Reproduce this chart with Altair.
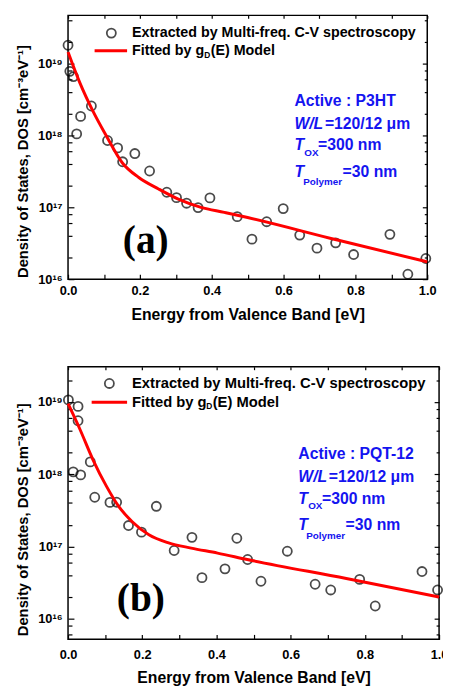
import altair as alt
import pandas as pd

# ---------------- data ----------------
# (a) Active: P3HT
A_E = [0.000, 0.005, 0.015, 0.024, 0.035, 0.065, 0.110, 0.138, 0.152, 0.186, 0.227,
       0.275, 0.302, 0.330, 0.362, 0.395, 0.471, 0.512, 0.553, 0.599, 0.645, 0.693,
       0.745, 0.795, 0.896, 0.946, 0.996]
A_DOS = [1.8e19, 7.8e18, 6.6e18, 1.05e18, 1.84e18, 2.57e18, 8.5e17, 6.7e17, 4.3e17, 5.6e17, 3.2e17,
         1.62e17, 1.36e17, 1.14e17, 9.9e16, 1.35e17, 7.4e16, 3.6e16, 6.3e16, 9.6e16, 4.1e16, 2.7e16,
         3.2e16, 2.2e16, 4.2e16, 1.17e16, 1.94e16]
A_FIT_E = [0.0, 0.033, 0.069, 0.106, 0.152, 0.197, 0.252, 0.307, 0.37, 0.435, 0.5, 0.75, 1.0]
A_FIT_DOS = [1.45e19, 5.4e18, 2.2e18, 1.0e18, 4.1e17, 2.6e17, 1.8e17, 1.3e17, 1.0e17, 8.5e16,
             7.2e16, 3.5e16, 1.74e16]

# (b) Active: PQT-12
B_E = [0.001, 0.014, 0.027, 0.027, 0.034, 0.060, 0.072, 0.113, 0.131, 0.163, 0.198, 0.238,
       0.286, 0.334, 0.361, 0.423, 0.455, 0.484, 0.520, 0.591, 0.666, 0.708, 0.786, 0.828,
       0.954, 0.996]
B_DOS = [1.07e19, 1.08e18, 8.7e18, 5.5e18, 9.8e17, 1.48e18, 4.8e17, 4.07e17, 4.1e17, 1.95e17,
         1.58e17, 3.6e17, 8.8e16, 1.34e17, 3.7e16, 4.9e16, 1.3e17, 6.6e16, 3.3e16, 8.6e16,
         3.0e16, 2.5e16, 3.5e16, 1.5e16, 4.5e16, 2.5e16]
B_FIT_E = [0.0, 0.032, 0.067, 0.103, 0.138, 0.173, 0.218, 0.271, 0.332, 0.403, 0.483, 0.75, 1.0]
B_FIT_DOS = [9.5e18, 4.2e18, 1.6e18, 6.9e17, 3.5e17, 2.2e17, 1.45e17, 1.12e17, 9.5e16, 8.1e16,
             6.6e16, 3.6e16, 2.0e16]

# axis ticks
X_TICKS = [0.0, 0.1, 0.2, 0.3, 0.4, 0.5, 0.6, 0.7, 0.8, 0.9, 1.0]
Y_TICKS_A = [1e16, 2e16, 4e16, 6e16, 8e16, 1e17, 2e17, 4e17, 6e17, 8e17,
             1e18, 2e18, 4e18, 6e18, 8e18, 1e19, 2e19, 4e19]
Y_TICKS_B = [6e15, 8e15, 1e16, 2e16, 4e16, 6e16, 8e16, 1e17, 2e17, 4e17, 6e17, 8e17,
             1e18, 2e18, 4e18, 6e18, 8e18, 1e19, 2e19]
Y_DOMAIN_A = [1e16, 4.69e19]
Y_DOMAIN_B = [5.18e15, 3.08e19]

LEGEND_PTS = "Extracted by Multi-freq. C-V spectroscopy"
LEGEND_FIT = ["Fitted by g", "D", "(E) Model"]
ACTIVE = ["Active : P3HT", "Active : PQT-12"]
X_TITLE = "Energy from Valence Band [eV]"
Y_TITLE = "Density of States, DOS [cm\u207b\u00b3eV\u207b\u00b9]"

SANS = "Liberation Sans"
SERIF = "Liberation Serif"
BLUE = "#1414f0"
BF = 16  # blue annotation font size

MAJOR = "abs(log(datum.value)/LN10 - round(log(datum.value)/LN10)) < 0.001"
EXP = "round(log(datum.value)/LN10)"
Y_LABEL = (f"{MAJOR} ? '10' + ({EXP} == 16 ? '\u00b9\u2076' : {EXP} == 17 ? '\u00b9\u2077' : "
           f"{EXP} == 18 ? '\u00b9\u2078' : '\u00b9\u2079') : ''")
X_LABEL = "round(datum.value*10) % 2 == 0 ? format(datum.value, '.1f') : ''"


def T(s, x, y, size, color="black", style="normal", font=SANS, weight="bold", align="left"):
    return alt.Chart(pd.DataFrame({"t": [s]})).mark_text(
        font=font, fontSize=size, fontWeight=weight, fontStyle=style, color=color,
        align=align, baseline="middle"
    ).encode(text="t:N", x=alt.value(x), y=alt.value(y))


def panel(E, D, fE, fD, w, h, ydom, yticks, xlabpad, ytitle_y, leg, blue, tag, fs):
    pts = pd.DataFrame({"E": E, "DOS": D})
    fit = pd.DataFrame({"E": fE, "DOS": fD})
    xs = alt.Scale(domain=[0, 1], nice=False, zero=False)
    ys = alt.Scale(type="log", domain=ydom, nice=False)

    x_bottom = alt.Axis(orient="bottom", values=X_TICKS, labelExpr=X_LABEL, labelFlush=False,
                        tickSize=alt.ExprRef(expr="-5"), labelPadding=xlabpad,
                        domain=False, grid=False, title=X_TITLE, titlePadding=9,
                        titleFontSize=16)
    y_left = alt.Axis(orient="left", values=yticks, labelExpr=Y_LABEL, labelFlush=False,
                      tickSize=alt.ExprRef(expr=f"{MAJOR} ? -6 : -4"), labelPadding=12,
                      domain=False, grid=False, title=Y_TITLE, titleFontSize=15,
                      titleX=-46, titleY=ytitle_y, titleAngle=270, titleAlign="center",
                      titleBaseline="middle")
    x_top = alt.Axis(orient="top", values=X_TICKS, labels=False, title=None,
                     tickSize=alt.ExprRef(expr="-3"), domain=False, grid=False)
    y_right = alt.Axis(orient="right", values=yticks, labels=False, title=None,
                       tickSize=alt.ExprRef(expr=f"{MAJOR} ? -5 : -3"), domain=False, grid=False)

    points = alt.Chart(pts).mark_point(shape="circle", filled=False, color="black",
                                       size=85, strokeWidth=1.8).encode(
        x=alt.X("E:Q", scale=xs, axis=x_bottom),
        y=alt.Y("DOS:Q", scale=ys, axis=y_left))
    line = alt.Chart(fit).mark_line(color="#ff0000", strokeWidth=3, interpolate="monotone").encode(
        x=alt.X("E:Q", scale=xs, axis=x_top),
        y=alt.Y("DOS:Q", scale=ys, axis=y_right))

    cx, cy, rx0, rx1, ry, tx, dx, ex = leg
    layers = [points, line]
    layers.append(alt.Chart(pd.DataFrame({"k": [0]})).mark_point(
        shape="circle", filled=False, color="black", size=85, strokeWidth=1.8
    ).encode(x=alt.value(cx), y=alt.value(cy)))
    layers.append(alt.Chart(pd.DataFrame({"k": [0]})).mark_rule(
        color="#ff0000", strokeWidth=3
    ).encode(x=alt.value(rx0), x2=alt.value(rx1), y=alt.value(ry)))
    layers.append(T(LEGEND_PTS, tx, cy, fs))
    layers.append(T(LEGEND_FIT[0], tx, ry, fs))
    layers.append(T(LEGEND_FIT[1], dx, ry + 4, 8.5))
    layers.append(T(LEGEND_FIT[2], ex, ry, fs))

    (bx, r1, r2, r3, r4, wl_x, ox_x, ox_y, eq3_x, pol_x, pol_y, eq4_x, active) = blue
    layers += [
        T(active, bx, r1, BF, BLUE),
        T("W/L", bx, r2, BF, BLUE, style="italic"),
        T("=120/12 \u03bcm", wl_x, r2, BF, BLUE),
        T("T", bx, r3, BF, BLUE, style="italic"),
        T("OX", ox_x, ox_y, 10, BLUE),
        T("=300 nm", eq3_x, r3, BF, BLUE),
        T("T", bx, r4, BF, BLUE, style="italic"),
        T("Polymer", pol_x, pol_y, 10, BLUE),
        T("=30 nm", eq4_x, r4, BF, BLUE),
    ]
    tx_, ty_, ttext = tag
    layers.append(T(ttext, tx_, ty_, 40, font=SERIF, align="center"))

    return alt.layer(*layers).resolve_axis(x="independent", y="independent").properties(
        width=w, height=h)


p1 = panel(A_E, A_DOS, A_FIT_E, A_FIT_DOS, 365, 268, Y_DOMAIN_A, Y_TICKS_A, 11, 148,
           (44, 18, 27, 60, 36, 65, 138.5, 145),
           (230, 87, 110, 132, 159, 261, 240, 140, 254, 239, 169, 279, ACTIVE[0]),
           (79, 229, "(a)"), 14.5)
p2 = panel(B_E, B_DOS, B_FIT_E, B_FIT_DOS, 377, 277, Y_DOMAIN_B, Y_TICKS_B, 14, 155,
           (42, 17, 24, 60, 36, 65, 140.5, 147),
           (234, 89, 112, 134, 161, 265, 244, 142, 258, 242, 172, 282, ACTIVE[1]),
           (74, 236, "(b)"), 15)

chart = alt.vconcat(p1, p2, spacing=42).properties(
    padding={"left": 7, "top": 0, "right": -6, "bottom": 0}
).configure_view(stroke="black", strokeWidth=1.5).configure_axis(
    labelFont=SANS, labelFontWeight="bold", labelFontSize=13, labelColor="black",
    titleFont=SANS, titleFontWeight="bold", titleColor="black",
    tickColor="black", tickWidth=1.2
)

chart.save("out.html", embed_options={"renderer": "svg", "actions": False})
